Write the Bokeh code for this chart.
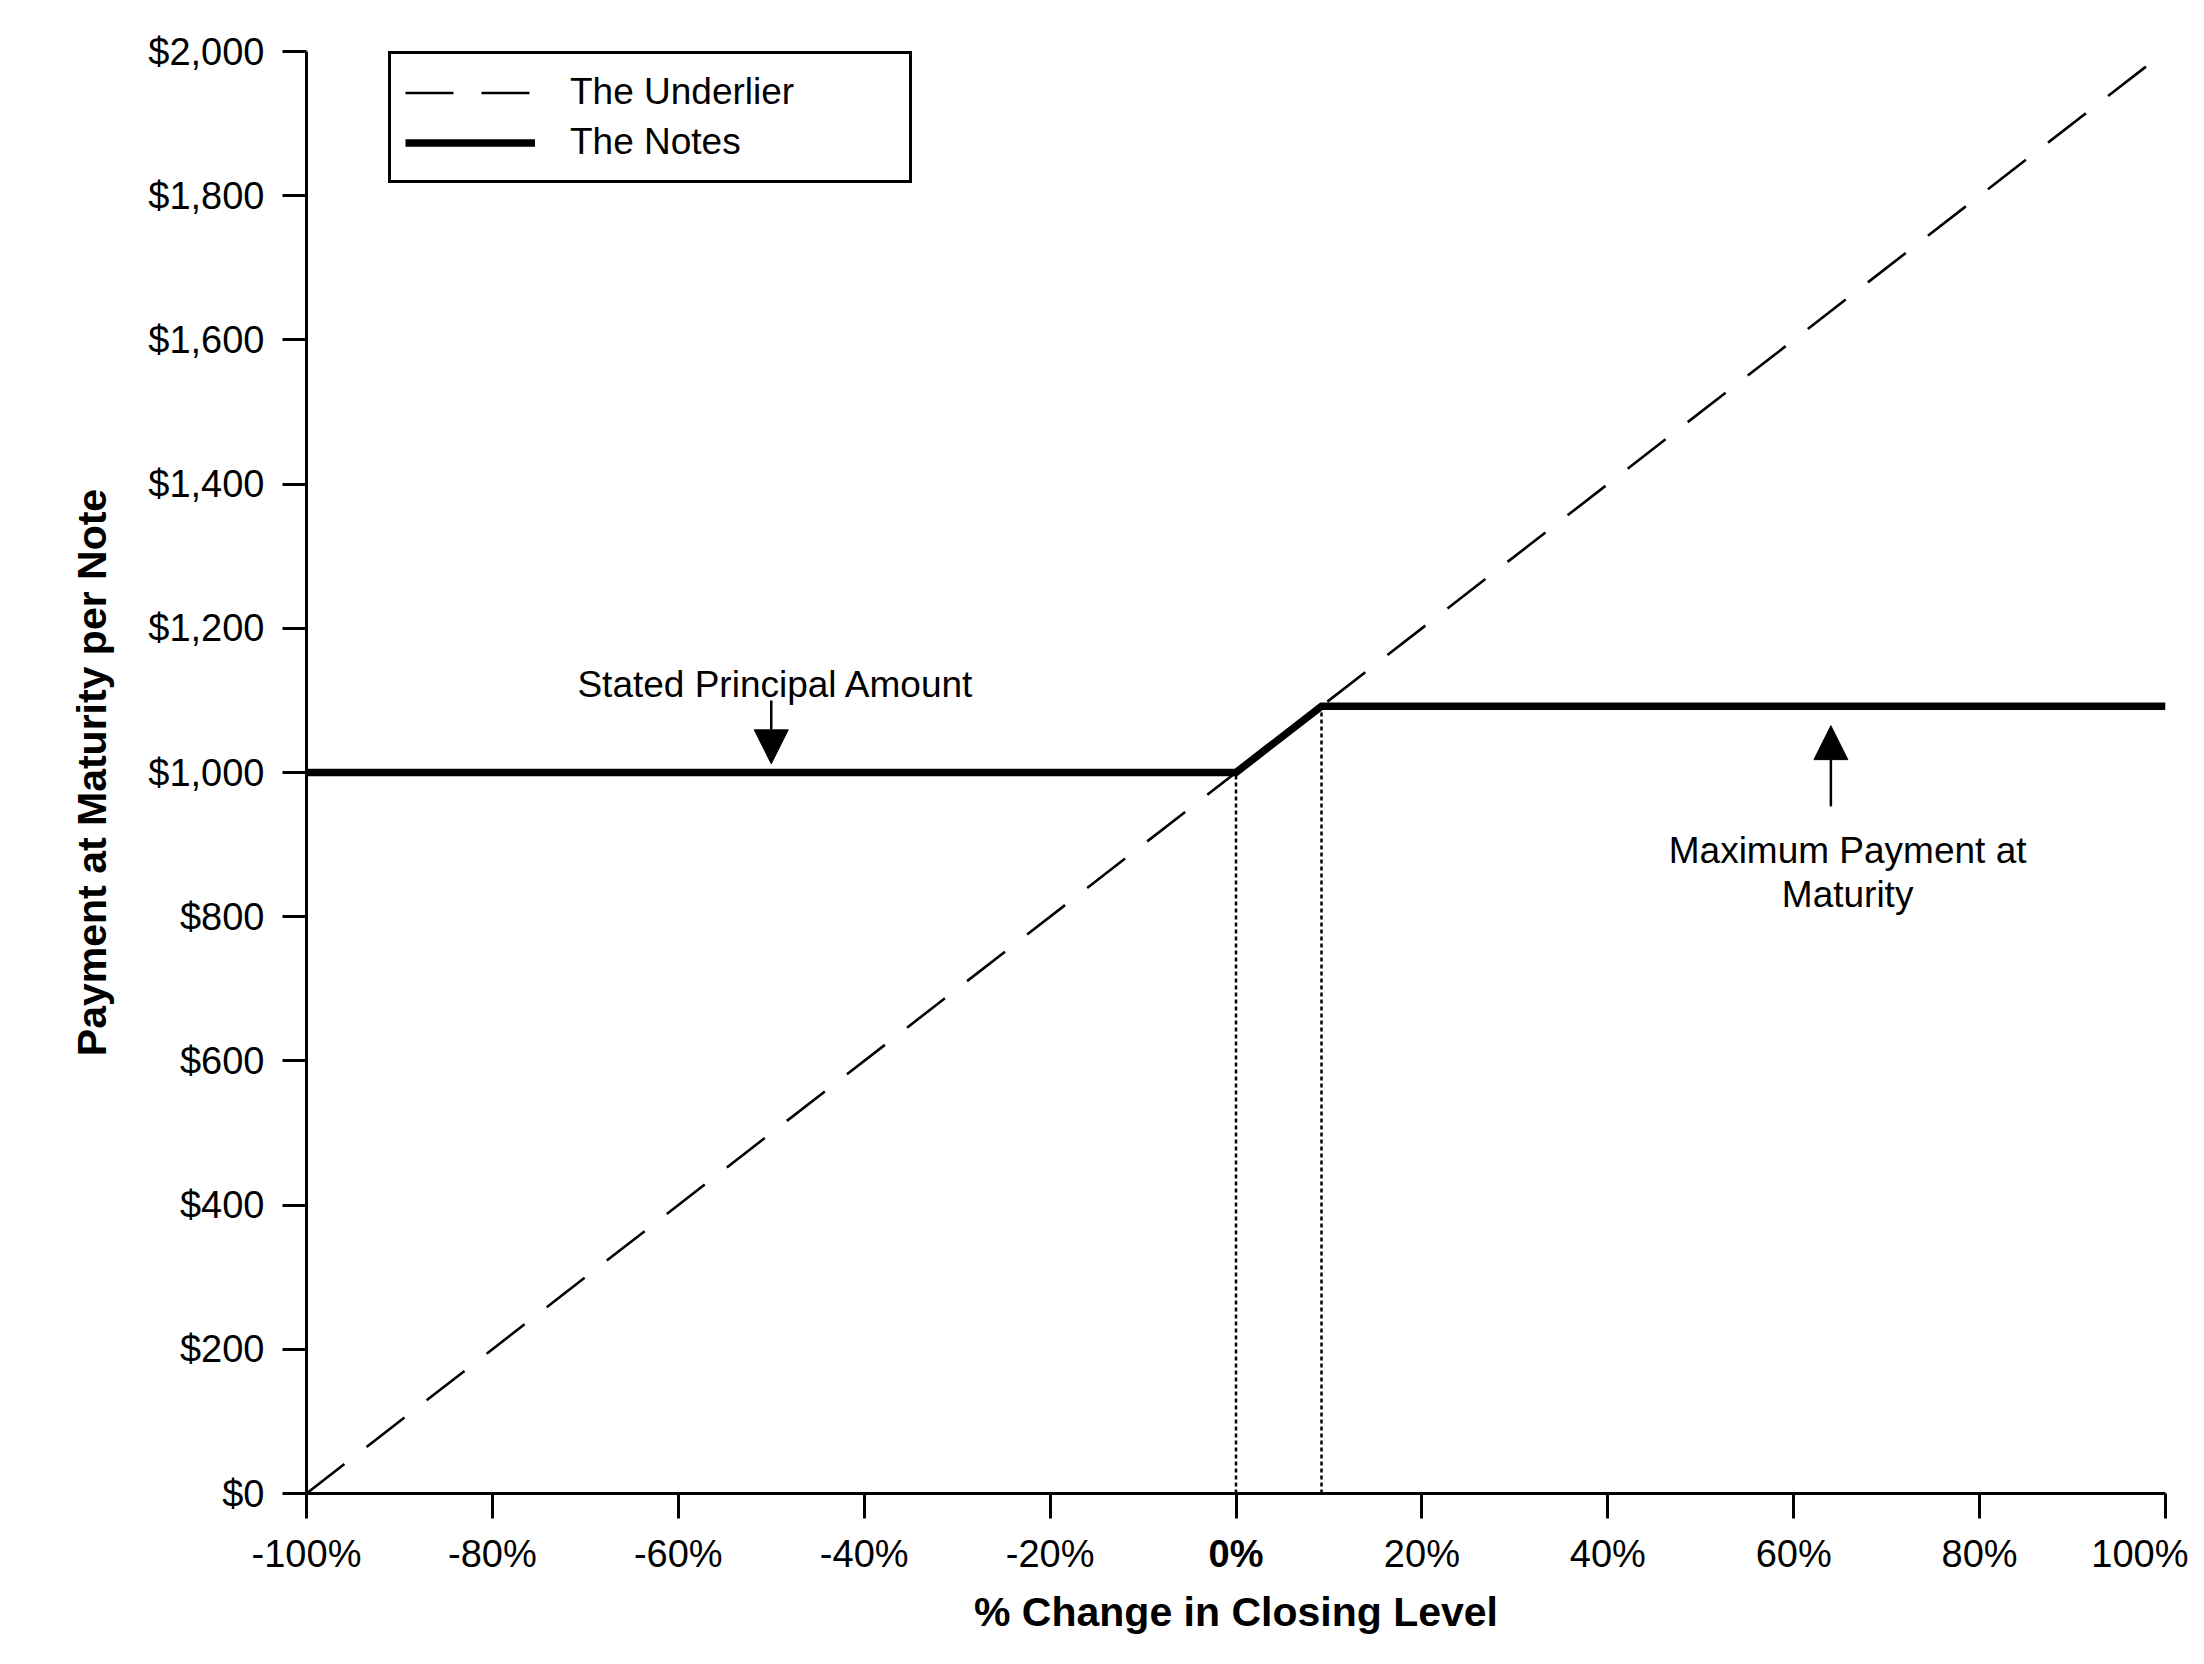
from bokeh.plotting import figure
from bokeh.models import (Legend, LegendItem, Label, Arrow, NormalHead, FixedTicker,
                          NumeralTickFormatter, CustomJSTickFormatter, Range1d, LinearAxis)
from bokeh.embed import file_html
from bokeh.resources import INLINE

# ---- data ----
pct_ticks = [-100, -80, -60, -40, -20, 0, 20, 40, 60, 80, 100]
payment_ticks = [0, 200, 400, 600, 800, 1000, 1200, 1400, 1600, 1800, 2000]

underlier_pct = [-100, 100]
underlier_payment = [0, 2000]

notes_pct = [-100, 0, 9.2, 100]
notes_payment = [1000, 1000, 1092, 1092]

guide_pct = [0, 9.2]
guide_payment = [1000, 1092]

FONT = "Liberation Sans"
TICK_FS = "38px"
LABEL_H = 45   # approx. rendered height of a 38px tick label

p = figure(width=2188, height=1648,
           x_range=Range1d(-100, 100), y_range=Range1d(0, 2000),
           output_backend="svg", toolbar_location=None,
           min_border_left=306, min_border_right=23,
           min_border_top=51, min_border_bottom=155)

p.background_fill_color = "white"
p.border_fill_color = "white"
p.outline_line_color = None
p.grid.visible = False

r_u = p.line(underlier_pct, underlier_payment, line_color="black",
             line_width=2.6, line_dash="48 28")
p.segment(x0=guide_pct, y0=[0, 0], x1=guide_pct, y1=guide_payment,
          line_color="black", line_width=2.5, line_dash="4 3")
r_n = p.line(notes_pct, notes_payment, line_color="black", line_width=7.5,
             line_join="miter")

# axes
p.xaxis.ticker = FixedTicker(ticks=pct_ticks)
p.yaxis.ticker = FixedTicker(ticks=payment_ticks)
p.xaxis.formatter = CustomJSTickFormatter(code="return tick == 0 ? '' : tick.toFixed(0) + '%';")
p.yaxis.formatter = NumeralTickFormatter(format="$0,0")
for ax in (p.xaxis, p.yaxis):
    ax.axis_line_color = "black"
    ax.axis_line_width = 3
    ax.major_tick_line_color = "black"
    ax.major_tick_line_width = 3
    ax.major_tick_in = 0
    ax.minor_tick_line_color = None
    ax.major_label_text_font = FONT
    ax.major_label_text_font_size = TICK_FS
    ax.major_label_text_color = "black"
    ax.axis_label_text_font = FONT
    ax.axis_label_text_font_size = "41px"
    ax.axis_label_text_font_style = "bold"
    ax.axis_label_text_color = "black"

p.xaxis.major_tick_out = 25
p.xaxis.major_label_standoff = 14
p.yaxis.major_tick_out = 24
p.yaxis.major_label_standoff = 18
p.yaxis.axis_label = "Payment at Maturity per Note"
p.yaxis.axis_label_standoff = 30

# second bottom axis: carries only the bold "0%" label (pulled up beside the
# other tick labels with a negative standoff) and the x axis title
zero_axis = LinearAxis(ticker=FixedTicker(ticks=[0]),
                       formatter=CustomJSTickFormatter(code="return tick.toFixed(0) + '%';"),
                       axis_line_color=None, major_tick_line_color=None,
                       minor_tick_line_color=None, major_tick_in=0, major_tick_out=0,
                       major_label_standoff=-LABEL_H, major_label_text_font=FONT,
                       major_label_text_font_size=TICK_FS, major_label_text_font_style="bold",
                       major_label_text_color="black",
                       axis_label="% Change in Closing Level", axis_label_standoff=11,
                       axis_label_text_font=FONT, axis_label_text_font_size="41px",
                       axis_label_text_font_style="bold", axis_label_text_color="black")
p.add_layout(zero_axis, "below")

# annotations
p.add_layout(Arrow(end=NormalHead(size=34, fill_color="black", line_color="black"),
                   x_start=-50, y_start=1100, x_end=-50, y_end=1012,
                   line_color="black", line_width=2.5))
p.add_layout(Label(x=-49.5, y=1122, text="Stated Principal Amount", text_font=FONT,
                   text_font_size="37px", text_align="center", text_baseline="middle",
                   text_color="black"))

p.add_layout(Arrow(end=NormalHead(size=34, fill_color="black", line_color="black"),
                   x_start=64, y_start=953, x_end=64, y_end=1065,
                   line_color="black", line_width=2.5))
p.add_layout(Label(x=65.8, y=892, text="Maximum Payment at", text_font=FONT,
                   text_font_size="37px", text_align="center", text_baseline="middle",
                   text_color="black"))
p.add_layout(Label(x=65.8, y=831, text="Maturity", text_font=FONT,
                   text_font_size="37px", text_align="center", text_baseline="middle",
                   text_color="black"))

legend = Legend(items=[LegendItem(label="The Underlier", renderers=[r_u]),
                       LegendItem(label="The Notes", renderers=[r_n])],
                location=(82, 1310), orientation="vertical",
                border_line_color="black", border_line_width=3, border_line_alpha=1.0,
                padding=14, spacing=2, margin=0,
                glyph_width=130, glyph_height=37, label_standoff=35,
                label_width=325, label_height=48,
                label_text_font=FONT, label_text_font_size="37px",
                label_text_color="black", background_fill_color="white",
                background_fill_alpha=1.0)
p.add_layout(legend)

open("out.html", "w").write(file_html(p, INLINE))
